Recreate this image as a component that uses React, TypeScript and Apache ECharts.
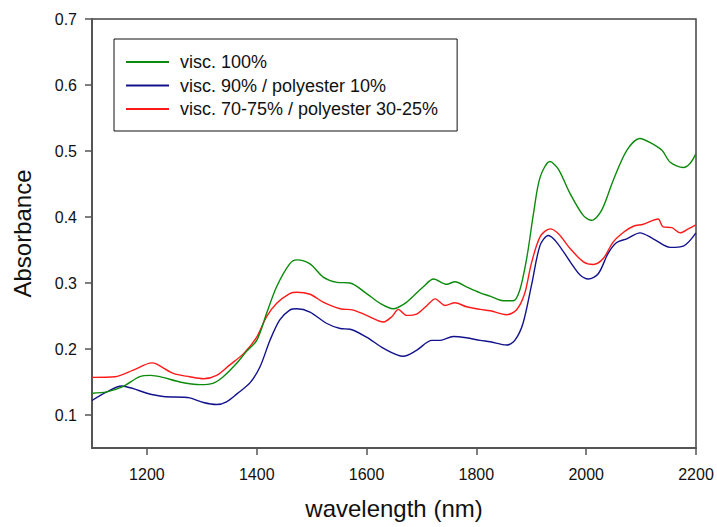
import React, { useEffect, useRef } from "react";
import * as echarts from "echarts";

const seriesNames = [
  "visc. 100%",
  "visc. 90% / polyester 10%",
  "visc. 70-75% / polyester 30-25%",
];

const greenW = [1100, 1127, 1156, 1187, 1206, 1229, 1260, 1297, 1320, 1339, 1363, 1381, 1400, 1418, 1436, 1460, 1473, 1497, 1521, 1546, 1570, 1600, 1625, 1649, 1670, 1685, 1703, 1722, 1746, 1761, 1782, 1807, 1825, 1849, 1867, 1879, 1892, 1904, 1916, 1934, 1949, 1971, 1995, 2010, 2028, 2049, 2074, 2098, 2116, 2138, 2153, 2177, 2189, 2200];
const greenV = [0.133, 0.135, 0.143, 0.158, 0.160, 0.157, 0.150, 0.146, 0.148, 0.158, 0.178, 0.196, 0.213, 0.254, 0.294, 0.329, 0.335, 0.329, 0.309, 0.301, 0.300, 0.284, 0.269, 0.261, 0.269, 0.280, 0.294, 0.306, 0.298, 0.302, 0.294, 0.285, 0.280, 0.273, 0.273, 0.289, 0.339, 0.405, 0.460, 0.484, 0.473, 0.435, 0.402, 0.395, 0.410, 0.455, 0.501, 0.519, 0.513, 0.501, 0.483, 0.475, 0.481, 0.496];

const blueW = [1100, 1127, 1154, 1175, 1200, 1230, 1266, 1278, 1303, 1327, 1345, 1364, 1388, 1406, 1424, 1442, 1460, 1473, 1497, 1527, 1552, 1570, 1600, 1631, 1667, 1691, 1719, 1734, 1758, 1782, 1807, 1825, 1855, 1870, 1885, 1901, 1916, 1931, 1946, 1971, 1989, 2004, 2022, 2040, 2055, 2074, 2098, 2122, 2153, 2177, 2200];
const blueV = [0.122, 0.135, 0.144, 0.140, 0.133, 0.128, 0.127, 0.126, 0.119, 0.116, 0.120, 0.132, 0.149, 0.173, 0.213, 0.244, 0.259, 0.261, 0.256, 0.239, 0.231, 0.230, 0.218, 0.201, 0.189, 0.198, 0.213, 0.213, 0.219, 0.217, 0.213, 0.211, 0.206, 0.213, 0.239, 0.299, 0.357, 0.372, 0.362, 0.332, 0.312, 0.306, 0.314, 0.345, 0.361, 0.367, 0.376, 0.367, 0.354, 0.356, 0.376];

const redW = [1100, 1142, 1175, 1209, 1218, 1248, 1278, 1303, 1327, 1351, 1376, 1400, 1418, 1436, 1460, 1473, 1497, 1521, 1552, 1576, 1600, 1631, 1646, 1658, 1673, 1691, 1710, 1725, 1743, 1761, 1782, 1807, 1825, 1855, 1873, 1888, 1900, 1916, 1934, 1949, 1971, 1995, 2013, 2031, 2049, 2068, 2086, 2104, 2131, 2140, 2156, 2171, 2186, 2200];
const redV = [0.157, 0.158, 0.168, 0.179, 0.177, 0.163, 0.158, 0.155, 0.160, 0.176, 0.193, 0.218, 0.249, 0.269, 0.284, 0.286, 0.283, 0.271, 0.261, 0.259, 0.251, 0.241, 0.249, 0.260, 0.251, 0.253, 0.266, 0.276, 0.266, 0.270, 0.264, 0.260, 0.258, 0.252, 0.259, 0.284, 0.329, 0.370, 0.382, 0.375, 0.352, 0.332, 0.328, 0.337, 0.362, 0.377, 0.386, 0.389, 0.397, 0.385, 0.384, 0.376, 0.382, 0.388];

const xTicks = [1200, 1400, 1600, 1800, 2000, 2200];
const yTicks = [0.1, 0.2, 0.3, 0.4, 0.5, 0.6, 0.7];

const colors = ["#0b8a0b", "#12128c", "#ff1a1a"];

const pairs = (w: number[], v: number[]) => w.map((x, i) => [x, v[i]]);

export default function App() {
  const ref = useRef<HTMLDivElement>(null);
  useEffect(() => {
    if (!ref.current) return;
    const chart = echarts.init(ref.current, undefined, { renderer: "svg" });
    const font = "'Liberation Sans', Arial, sans-serif";
    const datasets = [pairs(greenW, greenV), pairs(blueW, blueV), pairs(redW, redV)];
    chart.setOption({
      animation: false,
      backgroundColor: "#ffffff",
      grid: {
        left: 92,
        right: 21,
        top: 19,
        bottom: 79,
        show: true,
        borderColor: "#444",
        borderWidth: 1.5,
        backgroundColor: "transparent",
      },
      legend: {
        orient: "vertical",
        left: 114,
        top: 39,
        padding: [13, 19, 12, 12],
        borderColor: "#111",
        borderWidth: 1,
        itemWidth: 43,
        itemHeight: 2,
        itemGap: 3.5,
        icon: "rect",
        selectedMode: false,
        textStyle: {
          fontFamily: font,
          fontSize: 18,
          color: "#111",
          lineHeight: 20,
          padding: [0, 0, 0, 6],
        },
        data: seriesNames,
      },
      xAxis: {
        type: "value",
        min: 1100,
        max: 2200,
        name: "wavelength (nm)",
        nameLocation: "middle",
        nameGap: 48,
        nameTextStyle: { fontFamily: font, fontSize: 24, color: "#111" },
        axisLine: { show: true, lineStyle: { color: "#555", width: 2 } },
        axisTick: { show: true, inside: false, length: 7, customValues: xTicks, lineStyle: { color: "#555", width: 1.5 } },
        axisLabel: {
          customValues: xTicks,
          formatter: (v: number) => String(v),
          fontFamily: font,
          fontSize: 16,
          color: "#111",
          margin: 18,
        },
        splitLine: { show: false },
      },
      yAxis: {
        type: "value",
        min: 0.05,
        max: 0.7,
        name: "Absorbance",
        nameLocation: "middle",
        nameGap: 58,
        nameTextStyle: { fontFamily: font, fontSize: 24, color: "#111" },
        axisLine: { show: true, lineStyle: { color: "#555", width: 2 } },
        axisTick: { show: true, inside: false, length: 7, customValues: yTicks, lineStyle: { color: "#555", width: 1.5 } },
        axisLabel: {
          customValues: yTicks,
          formatter: (v: number) => v.toFixed(1),
          fontFamily: font,
          fontSize: 16,
          color: "#111",
          margin: 15,
        },
        splitLine: { show: false },
      },
      series: seriesNames.map((name, i) => ({
        name,
        type: "line",
        data: datasets[i],
        showSymbol: false,
        symbol: "none",
        smooth: 0.3,
        lineStyle: { color: colors[i], width: 1.4 },
        itemStyle: { color: colors[i] },
        z: 3 - i,
      })),
    });
    return () => chart.dispose();
  }, []);
  return (
    <div
      ref={ref}
      style={{ position: "fixed", left: 0, top: 0, width: 717, height: 527, background: "#fff" }}
    />
  );
}
